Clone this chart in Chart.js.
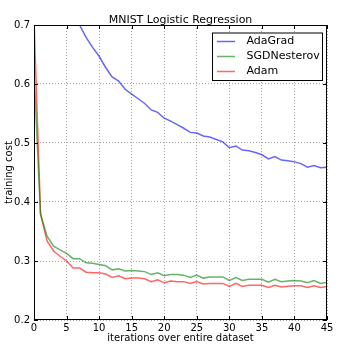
<!DOCTYPE html>
<html>
<head>
<meta charset="utf-8">
<script src="https://cdn.jsdelivr.net/npm/chart.js@4.4.1/dist/chart.umd.min.js"></script>
<style>
html,body{margin:0;padding:0;background:#fff;}
#wrap{width:356px;height:361px;}
</style>
</head>
<body>
<div id="wrap"><canvas id="c" width="356" height="361"></canvas></div>
<script>
const iterations = [0,1,2,3,4,5,6,7,8,9,10,11,12,13,14,15,16,17,18,19,20,21,22,23,24,25,26,27,28,29,30,31,32,33,34,35,36,37,38,39,40,41,42,43,44,45];
const adaGrad = [1.5,1.0,0.88,0.82,0.78,0.75,0.725,0.700,0.679,0.662,0.647,0.628,0.612,0.605,0.591,0.583,0.575,0.567,0.556,0.552,0.542,0.537,0.531,0.525,0.518,0.517,0.512,0.510,0.506,0.502,0.492,0.495,0.488,0.487,0.484,0.480,0.473,0.477,0.471,0.470,0.468,0.465,0.459,0.462,0.458,0.459];
const sgdNesterov = [0.62,0.380,0.342,0.325,0.319,0.313,0.304,0.304,0.297,0.296,0.294,0.292,0.285,0.287,0.283,0.284,0.283,0.282,0.277,0.280,0.275,0.277,0.277,0.276,0.272,0.276,0.271,0.273,0.273,0.273,0.267,0.272,0.267,0.269,0.269,0.269,0.264,0.269,0.265,0.266,0.267,0.266,0.263,0.267,0.262,0.264];
const adam = [0.71,0.380,0.334,0.317,0.308,0.300,0.288,0.288,0.281,0.280,0.280,0.278,0.272,0.275,0.270,0.271,0.271,0.270,0.265,0.268,0.263,0.266,0.265,0.265,0.262,0.265,0.261,0.262,0.262,0.262,0.257,0.262,0.257,0.259,0.259,0.259,0.255,0.259,0.256,0.257,0.258,0.258,0.255,0.258,0.255,0.257];
const seriesNames = ['AdaGrad','SGDNesterov','Adam'];
const xTicks = [0,5,10,15,20,25,30,35,40,45];
const yTicks = [0.2,0.3,0.4,0.5,0.6,0.7];
const titleText = 'MNIST Logistic Regression';
const xLabel = 'iterations over entire dataset';
const yLabel = 'training cost';

const colors = ['rgba(0,0,255,0.6)','rgba(0,128,0,0.6)','rgba(255,0,0,0.6)'];
const FONT = '"DejaVu Sans", sans-serif';

function pts(vals){ return iterations.map((x,i)=>({x:x,y:vals[i]})); }

const decor = {
  id:'decor',
  afterDatasetsDraw(chart){
    const ctx = chart.ctx, a = chart.chartArea;
    ctx.save();
    ctx.strokeStyle = '#000'; ctx.lineWidth = 1;
    ctx.strokeRect(Math.round(a.left)+0.5, Math.round(a.top)+0.5, Math.round(a.right-a.left)-1, Math.round(a.bottom-a.top)-1);
    const xs = chart.scales.x, ys = chart.scales.y;
    ctx.beginPath();
    xTicks.forEach(t=>{const px=Math.round(xs.getPixelForValue(t))+0.5; ctx.moveTo(px,a.bottom); ctx.lineTo(px,a.bottom-4); ctx.moveTo(px,a.top); ctx.lineTo(px,a.top+4);});
    yTicks.forEach(t=>{const py=Math.round(ys.getPixelForValue(t))+0.5; ctx.moveTo(a.left,py); ctx.lineTo(a.left+4,py); ctx.moveTo(a.right,py); ctx.lineTo(a.right-4,py);});
    ctx.stroke();
    ctx.fillStyle = '#000';
    ctx.font = '11px ' + FONT;
    ctx.textAlign = 'center'; ctx.textBaseline = 'alphabetic';
    ctx.fillText(titleText, (a.left+a.right)/2, 23);
    ctx.font = '10px ' + FONT;
    ctx.textBaseline = 'middle';
    ctx.fillText(xLabel, (a.left+a.right)/2, 338);
    ctx.save();
    ctx.translate(9.5, (a.top+a.bottom)/2);
    ctx.rotate(-Math.PI/2);
    ctx.fillText(yLabel, 0, 0);
    ctx.restore();
    const lx=212, ly=32.5, lw=110, lh=47.5;
    ctx.fillStyle='#fff';
    ctx.fillRect(lx,ly,lw,lh);
    ctx.strokeStyle='#000'; ctx.lineWidth=1;
    ctx.strokeRect(lx+0.5,ly+0.5,lw,lh);
    ctx.font = '11px ' + FONT;
    ctx.textAlign='left'; ctx.textBaseline='middle';
    chart.data.datasets.forEach((ds,i)=>{
      const y = 41 + i*15;
      ctx.strokeStyle = ds.borderColor; ctx.lineWidth = 1.5;
      ctx.beginPath(); ctx.moveTo(217, y+0.5); ctx.lineTo(235, y+0.5); ctx.stroke();
      ctx.fillStyle='#000';
      ctx.fillText(ds.label, 246.5, y);
    });
    ctx.restore();
  }
};

new Chart(document.getElementById('c'), {
  type:'line',
  data:{
    datasets:[
      {label:seriesNames[0], data:pts(adaGrad), borderColor:colors[0]},
      {label:seriesNames[1], data:pts(sgdNesterov), borderColor:colors[1]},
      {label:seriesNames[2], data:pts(adam), borderColor:colors[2]}
    ].map(d=>Object.assign(d,{borderWidth:1.5,pointRadius:0,fill:false,tension:0,clip:0}))
  },
  options:{
    responsive:false, animation:false, devicePixelRatio:1,
    layout:{padding:{top:25,right:29,left:0,bottom:0}},
    plugins:{legend:{display:false}, title:{display:false}, tooltip:{enabled:false}},
    scales:{
      x:{type:'linear', min:0, max:45,
        afterBuildTicks(s){ s.ticks = xTicks.map(v=>({value:v})); },
        afterFit(s){ s.height = 41; },
        grid:{color:'rgba(0,0,0,0.35)', drawTicks:false, lineWidth:1},
        border:{display:false, dash:[1,2]},
        ticks:{padding:2, color:'#000', font:{family:'DejaVu Sans', size:10}, maxRotation:0, autoSkip:false, callback:v=>String(v)}
      },
      y:{type:'linear', min:0.2, max:0.7,
        afterBuildTicks(s){ s.ticks = yTicks.map(v=>({value:v})); },
        afterFit(s){ s.width = 34; },
        grid:{color:'rgba(0,0,0,0.35)', drawTicks:false, lineWidth:1},
        border:{display:false, dash:[1,2]},
        ticks:{padding:4, color:'#000', font:{family:'DejaVu Sans', size:10}, autoSkip:false, callback:v=>v.toFixed(1)}
      }
    }
  },
  plugins:[decor]
});
</script>
</body>
</html>
